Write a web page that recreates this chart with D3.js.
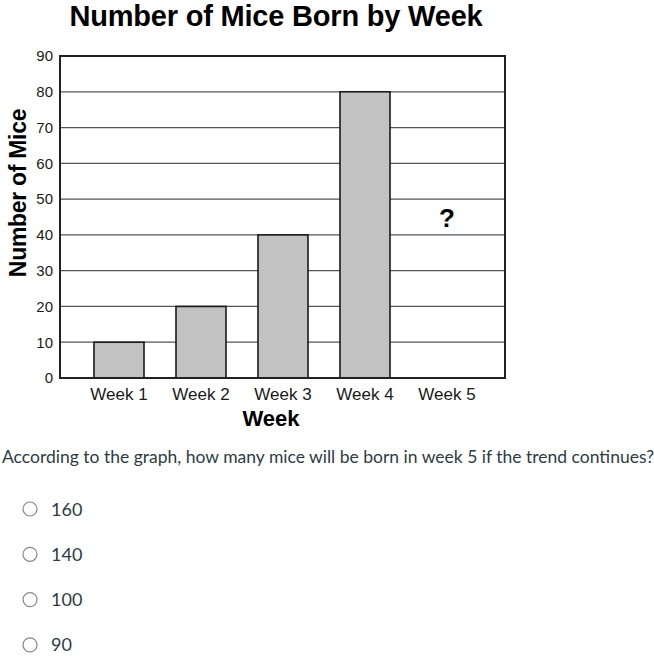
<!DOCTYPE html>
<html>
<head>
<meta charset="utf-8">
<script src="https://cdn.jsdelivr.net/npm/d3@7"></script>
<style>
  body { margin: 0; background: #fff; }
  svg { display: block; }
</style>
</head>
<body>
<div id="chart"></div>
<script>
const weeks = ['Week 1', 'Week 2', 'Week 3', 'Week 4', 'Week 5'];
const mice = [10, 20, 40, 80, null];
const yTicks = [0, 10, 20, 30, 40, 50, 60, 70, 80, 90];
const question = 'According to the graph, how many mice will be born in week 5 if the trend continues?';
const choices = ['160', '140', '100', '90'];

const width = 654, height = 664;
const plot = {left: 60, right: 505, top: 56, bottom: 378};
const font = 'Liberation Sans, Arial, sans-serif';

const svg = d3.select('#chart').append('svg')
  .attr('width', width)
  .attr('height', height);

const x = d3.scaleBand()
  .domain(weeks)
  .range([78, 488])
  .paddingInner(0.39)
  .paddingOuter(0.195);

const y = d3.scaleLinear()
  .domain([0, 90])
  .range([plot.bottom, plot.top]);

// title
svg.append('text')
  .attr('x', 276).attr('y', 26)
  .attr('text-anchor', 'middle')
  .style('font-family', font)
  .style('font-weight', 'bold')
  .style('font-size', '29px')
  .style('letter-spacing', '-0.2px')
  .text('Number of Mice Born by Week');

// grid lines
svg.append('g')
  .selectAll('line')
  .data(yTicks.filter(d => d > 0 && d < 90))
  .join('line')
  .attr('x1', plot.left).attr('x2', plot.right)
  .attr('y1', d => y(d)).attr('y2', d => y(d))
  .attr('stroke', '#555')
  .attr('stroke-width', 1.3);

// y axis labels
const yAxis = d3.axisLeft(y).tickValues(yTicks).tickSize(0).tickPadding(7);
svg.append('g')
  .attr('transform', 'translate(' + plot.left + ',0)')
  .call(yAxis)
  .call(g => g.select('.domain').remove())
  .selectAll('text')
  .style('font-family', font)
  .style('font-size', '15px')
  .attr('fill', '#1a1a1a');

// bars
svg.append('g')
  .selectAll('rect')
  .data(weeks.map((w, i) => ({w, v: mice[i]})).filter(d => d.v != null))
  .join('rect')
  .attr('x', d => x(d.w))
  .attr('y', d => y(d.v))
  .attr('width', x.bandwidth())
  .attr('height', d => y(0) - y(d.v))
  .attr('fill', '#c2c2c2')
  .attr('stroke', '#1a1a1a')
  .attr('stroke-width', 1.6);

// unknown week
svg.append('text')
  .attr('x', x('Week 5') + x.bandwidth() / 2)
  .attr('y', y(40) - 8)
  .attr('text-anchor', 'middle')
  .style('font-family', font)
  .style('font-weight', 'bold')
  .style('font-size', '26px')
  .text('?');

// frame
svg.append('rect')
  .attr('x', plot.left).attr('y', plot.top)
  .attr('width', plot.right - plot.left)
  .attr('height', plot.bottom - plot.top)
  .attr('fill', 'none')
  .attr('stroke', '#222')
  .attr('stroke-width', 2);

// x axis labels
const xAxis = d3.axisBottom(x).tickSize(0).tickPadding(10);
svg.append('g')
  .attr('transform', 'translate(0,' + plot.bottom + ')')
  .call(xAxis)
  .call(g => g.select('.domain').remove())
  .selectAll('text')
  .style('font-family', font)
  .style('font-size', '17px')
  .attr('fill', '#1a1a1a');

// axis titles
svg.append('text')
  .attr('x', 271).attr('y', 426)
  .attr('text-anchor', 'middle')
  .style('font-family', font)
  .style('font-weight', 'bold')
  .style('font-size', '22px')
  .text('Week');

svg.append('text')
  .attr('transform', 'translate(26,' + 193 + ') rotate(-90)')
  .attr('text-anchor', 'middle')
  .style('font-family', font)
  .style('font-weight', 'bold')
  .style('font-size', '23px')
  .style('letter-spacing', '-0.3px')
  .text('Number of Mice');

// question
svg.append('text')
  .attr('x', 2).attr('y', 463)
  .style('font-family', 'Lato, sans-serif')
  .style('font-size', '17.5px')
  .attr('fill', '#2d3b45')
  .text(question);

const opt = svg.append('g')
  .selectAll('g')
  .data(choices)
  .join('g')
  .attr('transform', (d, i) => 'translate(0,' + (509 + i * 45.3) + ')');

opt.append('circle')
  .attr('cx', 30).attr('cy', 0).attr('r', 7)
  .attr('fill', '#fff')
  .attr('stroke', '#888')
  .attr('stroke-width', 1.2);

opt.append('text')
  .attr('x', 51).attr('y', 6.5)
  .style('font-family', 'Lato, sans-serif')
  .style('font-size', '18px')
  .attr('fill', '#2d3b45')
  .text(d => d);
</script>
</body>
</html>
